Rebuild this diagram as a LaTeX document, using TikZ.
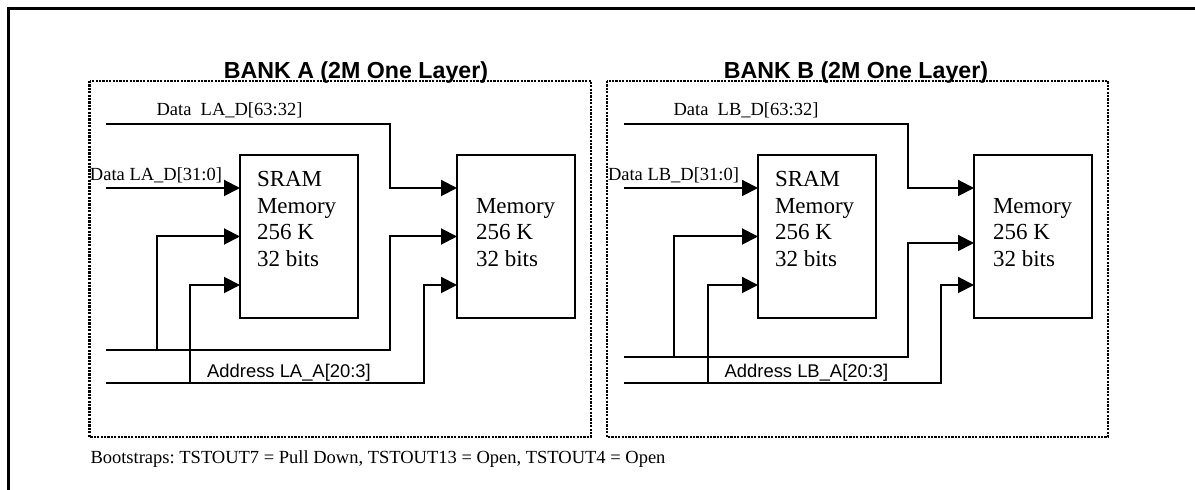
\documentclass[tikz,border=0pt]{standalone}
\usepackage{fontspec}
\setmainfont{Liberation Serif}
\setsansfont{Liberation Sans}
\frenchspacing
\usetikzlibrary{positioning,arrows.meta}

\begin{document}
\begin{tikzpicture}[
	x=0.5pt, y=-0.5pt,
	line width=1pt,
	MemBox/.style={draw, minimum width=59pt, minimum height=81.5pt,
		inner sep=0pt, outer sep=0pt, anchor=north west},
	MemText/.style={anchor=north west, align=left, inner sep=0pt,
		font=\fontsize{11.5}{13.25}\selectfont},
	BankBox/.style={draw, line width=1.1pt, dash pattern=on 1.1pt off 0.6pt},
	BankTitle/.style={anchor=base, inner sep=0pt,
		font=\sffamily\bfseries\fontsize{11.6}{13}\selectfont},
	SigLabel/.style={anchor=base, inner sep=0pt, font=\fontsize{9.25}{11}\selectfont},
	AddrLabel/.style={anchor=base, inner sep=0pt, font=\sffamily\fontsize{9.2}{11}\selectfont},
	Bus/.style={-{Triangle[length=8pt,width=8pt]}},
	]
	\useasboundingbox (0,0) rectangle (1195,490);
	\draw[line width=1.5pt] (8.5,490) -- (8.5,8.5) -- (1195,8.5);
	
	% bank A
	\draw[BankBox] (89.5,81) rectangle (591,437);
	\node[BankTitle] (titleA) at (356,79) {BANK A (2M One Layer)};
	\node[MemBox] (sramA) at (240,155) {};
	\node[MemBox] (memA) at (457,155) {};
	\node[MemText] (sramAtxt) at ([shift={(8pt,-7.7pt)}]sramA.north west) {SRAM\\Memory\\256 K\\32 bits};
	\node[MemText] (memAtxt) at ([shift={(9pt,-21pt)}]memA.north west) {Memory\\256 K\\32 bits};
	\coordinate (A63) at (106,124);
	\coordinate (A31) at (106,188);
	\coordinate (Abus1) at (106,350);
	\coordinate (Abus2) at (106,383);
	\node[SigLabel] (labA63) at (229.5,116) {Data~~LA\_D[63:32]};
	\node[SigLabel] (labA31) at (156,181) {Data LA\_D[31:0]};
	\node[AddrLabel] (addrA) at (289,377.5) {Address LA\_A[20:3]};
	\draw[Bus] (A63) -| ([xshift=-33.5pt,yshift=24.25pt]memA.west) -- ([yshift=24.25pt]memA.west);
	\draw[Bus] (A31) -- ([yshift=24.25pt]sramA.west);
	\draw[Bus] (Abus1) -| ([xshift=-33.5pt]memA.west) -- (memA.west);
	\draw[Bus] ([xshift=25.5pt]Abus1) |- (sramA.west);
	\draw[Bus] (Abus2) -| ([xshift=-16.5pt,yshift=-24.25pt]memA.west) -- ([yshift=-24.25pt]memA.west);
	\draw[Bus] ([xshift=42pt]Abus2) |- ([yshift=-24.25pt]sramA.west);
	
	% bank B
	\draw[BankBox] (607,81) rectangle (1108,437);
	\node[BankTitle] (titleB) at (856,79) {BANK B (2M One Layer)};
	\node[MemBox] (sramB) at (758,155) {};
	\node[MemBox] (memB) at (974,155) {};
	\node[MemText] (sramBtxt) at ([shift={(8pt,-7.7pt)}]sramB.north west) {SRAM\\Memory\\256 K\\32 bits};
	\node[MemText] (memBtxt) at ([shift={(9pt,-21pt)}]memB.north west) {Memory\\256 K\\32 bits};
	\coordinate (B63) at (624,124);
	\coordinate (B31) at (624,188);
	\coordinate (Bbus1) at (624,357);
	\coordinate (Bbus2) at (624,383);
	\node[SigLabel] (labB63) at (746,116) {Data~~LB\_D[63:32]};
	\node[SigLabel] (labB31) at (673.5,181) {Data LB\_D[31:0]};
	\node[AddrLabel] (addrB) at (806.5,377.5) {Address LB\_A[20:3]};
	\draw[Bus] (B63) -| ([xshift=-33pt,yshift=24.25pt]memB.west) -- ([yshift=24.25pt]memB.west);
	\draw[Bus] (B31) -- ([yshift=24.25pt]sramB.west);
	\draw[Bus] (Bbus1) -| ([xshift=-33pt,yshift=-3.25pt]memB.west) -- ([yshift=-3.25pt]memB.west);
	\draw[Bus] ([xshift=25pt]Bbus1) |- (sramB.west);
	\draw[Bus] (Bbus2) -| ([xshift=-16.5pt,yshift=-24.25pt]memB.west) -- ([yshift=-24.25pt]memB.west);
	\draw[Bus] ([xshift=42pt]Bbus2) |- ([yshift=-24.25pt]sramB.west);
	
	\node[SigLabel, anchor=base west] (boot) at (89.5,464) {Bootstraps: TSTOUT7 = Pull Down, TSTOUT13 = Open, TSTOUT4 = Open};
\end{tikzpicture}
\end{document}
